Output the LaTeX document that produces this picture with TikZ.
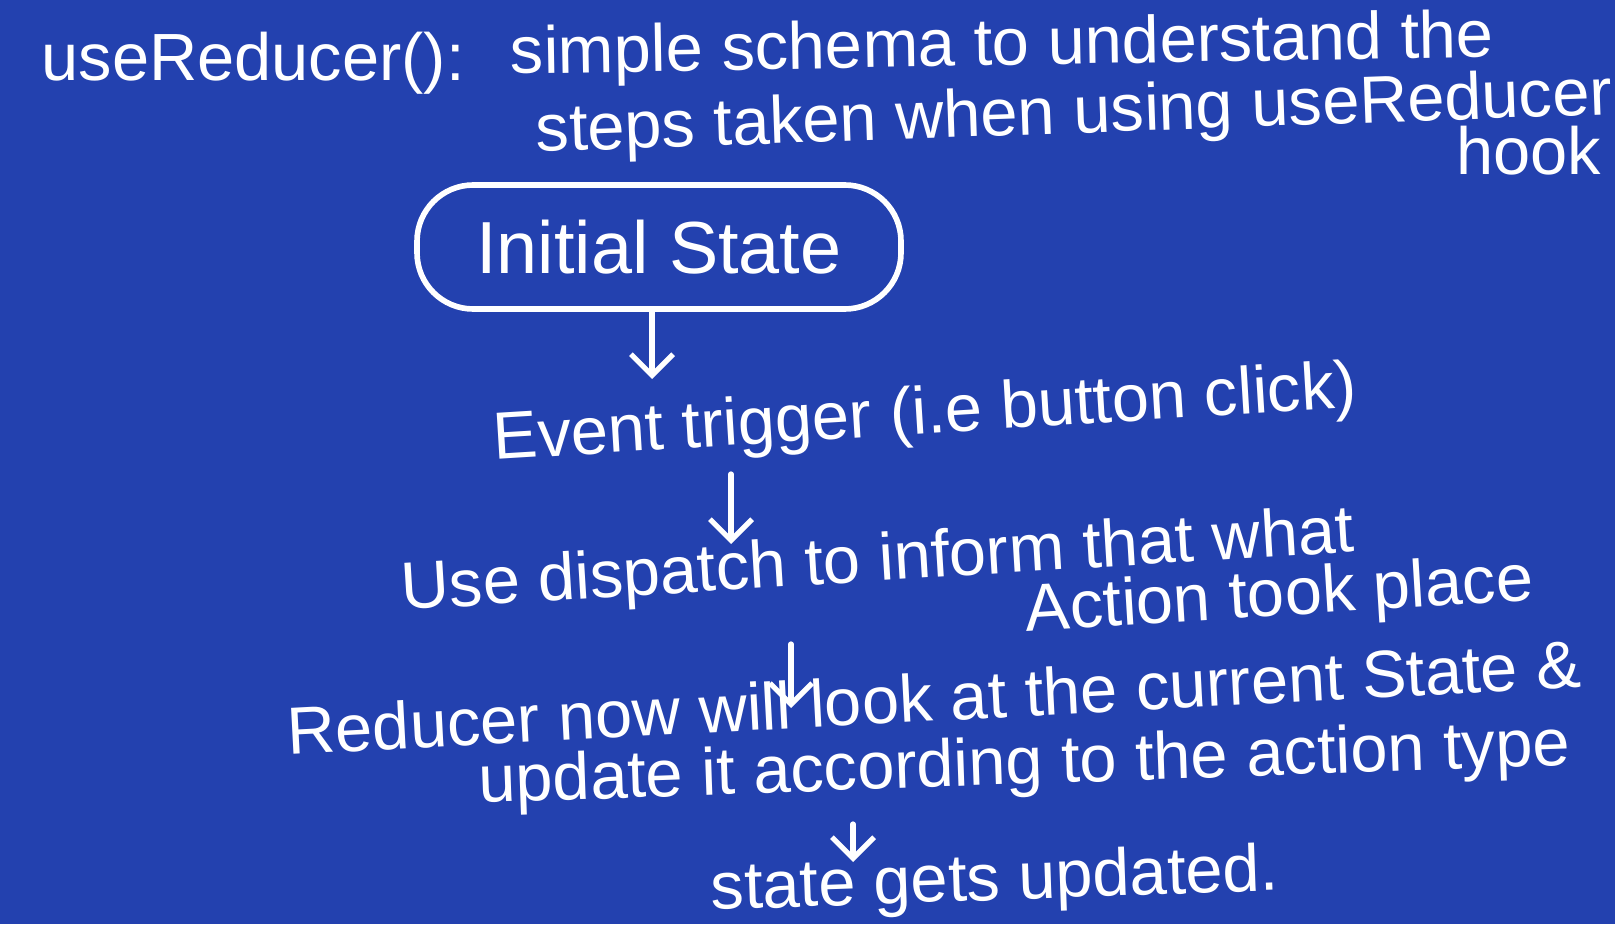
\documentclass[tikz,border=0pt]{standalone}
\usepackage{fontspec}
\setmainfont{Liberation Sans}
\usetikzlibrary{arrows.meta, positioning, calc}
\definecolor{boardblue}{RGB}{35,65,175}

\begin{document}
\begin{tikzpicture}[x=1cm, y=1cm,
  hand/.style={text=white, font=\fontsize{19}{23}\selectfont, anchor=base west, inner sep=0pt},
  flow/.style={draw=white, line width=1.5pt, line cap=round,
    -{Straight Barb[length=6pt, width=12pt, line width=1.5pt]}}]

  % --- board ---
  \useasboundingbox (0,0) rectangle (16.15,-9.24);
  \fill[boardblue] (0,0) rectangle (16.15,-9.24);

  % --- heading ---
  \node[hand] (title) at (0.41,-0.80) {useReducer():};
  \node[hand, rotate=1] (intro1) at (5.10,-0.74) {simple schema to understand the};
  \node[hand, rotate=2] (intro2) at (5.36,-1.52) {steps taken when using useReducer};
  \node[hand, anchor=base east] (intro3) at (16.02,-1.74) {hook};

  % --- initial state ---
  \node[draw=white, line width=1.6pt, rounded corners=16pt, minimum width=4.84cm,
    minimum height=1.24cm, text=white, font=\fontsize{21}{25}\selectfont] (init) at (6.59,-2.47) {Initial State};
  \coordinate (tip1) at (6.52,-3.79);
  \draw[flow] (init.south -| tip1) -- (tip1);

  % --- event ---
  \node[hand, rotate=3.5] (event) at (4.94,-4.60) {Event trigger (i.e button click)};
  \coordinate (tail2) at (7.31,-4.74);
  \coordinate (tip2) at (7.31,-5.44);
  \draw[flow] (tail2) -- (tip2);

  % --- dispatch ---
  \node[hand, rotate=3.5] (dispatch) at (4.02,-6.10) {Use dispatch to inform that what};
  \node[hand, rotate=3.5, anchor=base east] (action) at (15.35,-6.00) {Action took place};
  \coordinate (tail3) at (7.91,-6.44);
  \coordinate (tip3) at (7.91,-7.08);
  \draw[flow] (tail3) -- (tip3);

  % --- reducer ---
  \node[hand, rotate=3] (reducer) at (2.88,-7.55) {Reducer now will look at the current State \&};
  \node[hand, rotate=2] (update) at (4.79,-8.03) {update it according to the action type};
  \coordinate (tail4) at (8.53,-8.24);
  \coordinate (tip4) at (8.53,-8.62);
  \draw[flow] (tail4) -- (tip4);

  % --- result ---
  \node[hand, rotate=2] (result) at (7.11,-9.10) {state gets updated.};
\end{tikzpicture}
\end{document}
